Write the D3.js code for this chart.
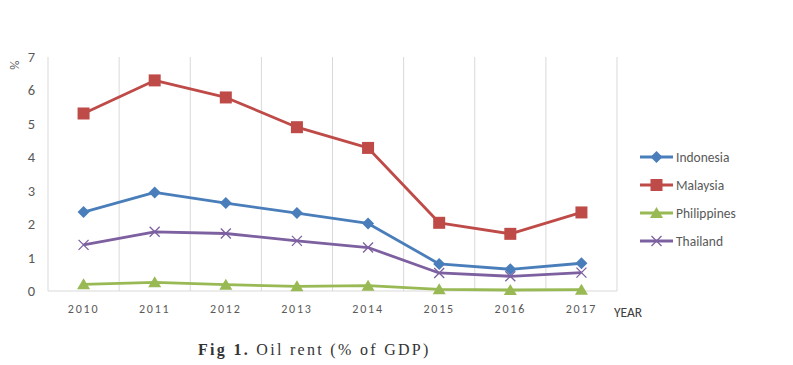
<!DOCTYPE html>
<html>
<head>
<meta charset="utf-8">
<script src="https://cdn.jsdelivr.net/npm/d3@7"></script>
<style>
  body { margin: 0; background: #fff; }
  .sans { font-family: Carlito, Calibri, "Liberation Sans", sans-serif; }
  .serif { font-family: "Liberation Serif", "DejaVu Serif", serif; }
</style>
</head>
<body>
<script>
let width = 793, height = 365;

let years = ["2010", "2011", "2012", "2013", "2014", "2015", "2016", "2017"];
let yTicks = [0, 1, 2, 3, 4, 5, 6, 7];
let countries = ["Indonesia", "Malaysia", "Philippines", "Thailand"];
let indonesia = [2.36, 2.95, 2.63, 2.33, 2.02, 0.81, 0.65, 0.83];
let malaysia = [5.31, 6.30, 5.79, 4.90, 4.28, 2.04, 1.71, 2.35];
let philippines = [0.20, 0.26, 0.19, 0.14, 0.16, 0.05, 0.03, 0.04];
let thailand = [1.38, 1.77, 1.72, 1.50, 1.30, 0.54, 0.44, 0.55];

let colors = ["#4a7ebb", "#be4b48", "#98b954", "#7d60a0"];
let shapes = ["diamond", "square", "triangle", "cross"];
let series = [indonesia, malaysia, philippines, thailand].map((v, i) => ({
    name: countries[i], values: v, color: colors[i], shape: shapes[i]
}));

let svg = d3.select("body").append("svg")
    .attr("width", width)
    .attr("height", height);

let x = d3.scaleBand().domain(years).range([48, 617]);
let y = d3.scaleLinear().domain([0, 7]).range([291, 57]);

// vertical gridlines at category boundaries
let bounds = years.map(d => x(d)).concat([x.range()[1]]);
svg.selectAll("line.grid").data(bounds).enter().append("line")
    .attr("class", "grid")
    .attr("x1", d => d).attr("x2", d => d)
    .attr("y1", y(7)).attr("y2", y(0))
    .attr("stroke", "#d9d9d9").attr("stroke-width", 1);

svg.append("line")
    .attr("x1", x.range()[0]).attr("x2", x.range()[1])
    .attr("y1", y(0)).attr("y2", y(0))
    .attr("stroke", "#d9d9d9");

// y tick labels
svg.selectAll("text.ytick").data(yTicks).enter().append("text")
    .attr("class", "ytick sans")
    .attr("x", 35).attr("y", d => y(d) + 5)
    .attr("text-anchor", "end")
    .attr("font-size", 14.5)
    .attr("fill", "#595959")
    .text(d => d);

svg.append("text")
    .attr("class", "sans")
    .attr("transform", "translate(19,65) rotate(-90)")
    .attr("text-anchor", "middle")
    .attr("font-size", 13)
    .attr("fill", "#595959")
    .text("%");

// x tick labels
svg.selectAll("text.xtick").data(years).enter().append("text")
    .attr("class", "xtick sans")
    .attr("x", d => x(d) + x.bandwidth() / 2)
    .attr("y", 313)
    .attr("text-anchor", "middle")
    .attr("font-size", 12)
    .attr("letter-spacing", 1.8)
    .attr("fill", "#595959")
    .text(d => d);

svg.append("text")
    .attr("class", "sans")
    .attr("x", 614).attr("y", 317)
    .attr("font-size", 13.5)
    .attr("fill", "#404040")
    .text("YEAR");

let line = d3.line()
    .x((d, i) => x(years[i]) + x.bandwidth() / 2)
    .y(d => y(d));

function marker(g, shape, color) {
    if (shape == "diamond") {
        g.append("path").attr("d", "M0,-6L6,0L0,6L-6,0Z").attr("fill", color);
    } else if (shape == "square") {
        g.append("rect").attr("x", -6).attr("y", -6).attr("width", 12).attr("height", 12).attr("fill", color);
    } else if (shape == "triangle") {
        g.append("path").attr("d", "M0,-6L6.5,5L-6.5,5Z").attr("fill", color);
    } else {
        g.append("path").attr("d", "M-5,-5L5,5M-5,5L5,-5")
            .attr("stroke", color).attr("stroke-width", 1.3).attr("fill", "none");
    }
}

series.forEach(s => {
    svg.append("path")
        .datum(s.values)
        .attr("d", line)
        .attr("fill", "none")
        .attr("stroke", s.color)
        .attr("stroke-width", 2.8)
        .attr("stroke-linejoin", "round");
    s.values.forEach((v, i) => {
        let g = svg.append("g")
            .attr("transform", "translate(" + (x(years[i]) + x.bandwidth() / 2) + "," + y(v) + ")");
        marker(g, s.shape, s.color);
    });
});

// legend
series.forEach((s, i) => {
    let ly = 157 + i * 28;
    svg.append("line")
        .attr("x1", 640).attr("x2", 673)
        .attr("y1", ly).attr("y2", ly)
        .attr("stroke", s.color).attr("stroke-width", 2.8);
    let g = svg.append("g").attr("transform", "translate(656.5," + ly + ")");
    marker(g, s.shape, s.color);
    svg.append("text")
        .attr("class", "sans")
        .attr("x", 676).attr("y", ly + 5)
        .attr("font-size", 13.5)
        .attr("fill", "#595959")
        .text(s.name);
});

// caption
let cap = svg.append("text")
    .attr("class", "serif")
    .attr("x", 198).attr("y", 355)
    .attr("font-size", 16)
    .attr("letter-spacing", 2.3)
    .attr("fill", "#333");
cap.append("tspan").attr("font-weight", "bold").text("Fig 1.");
cap.append("tspan").text(" Oil rent (% of GDP)");
</script>
</body>
</html>
